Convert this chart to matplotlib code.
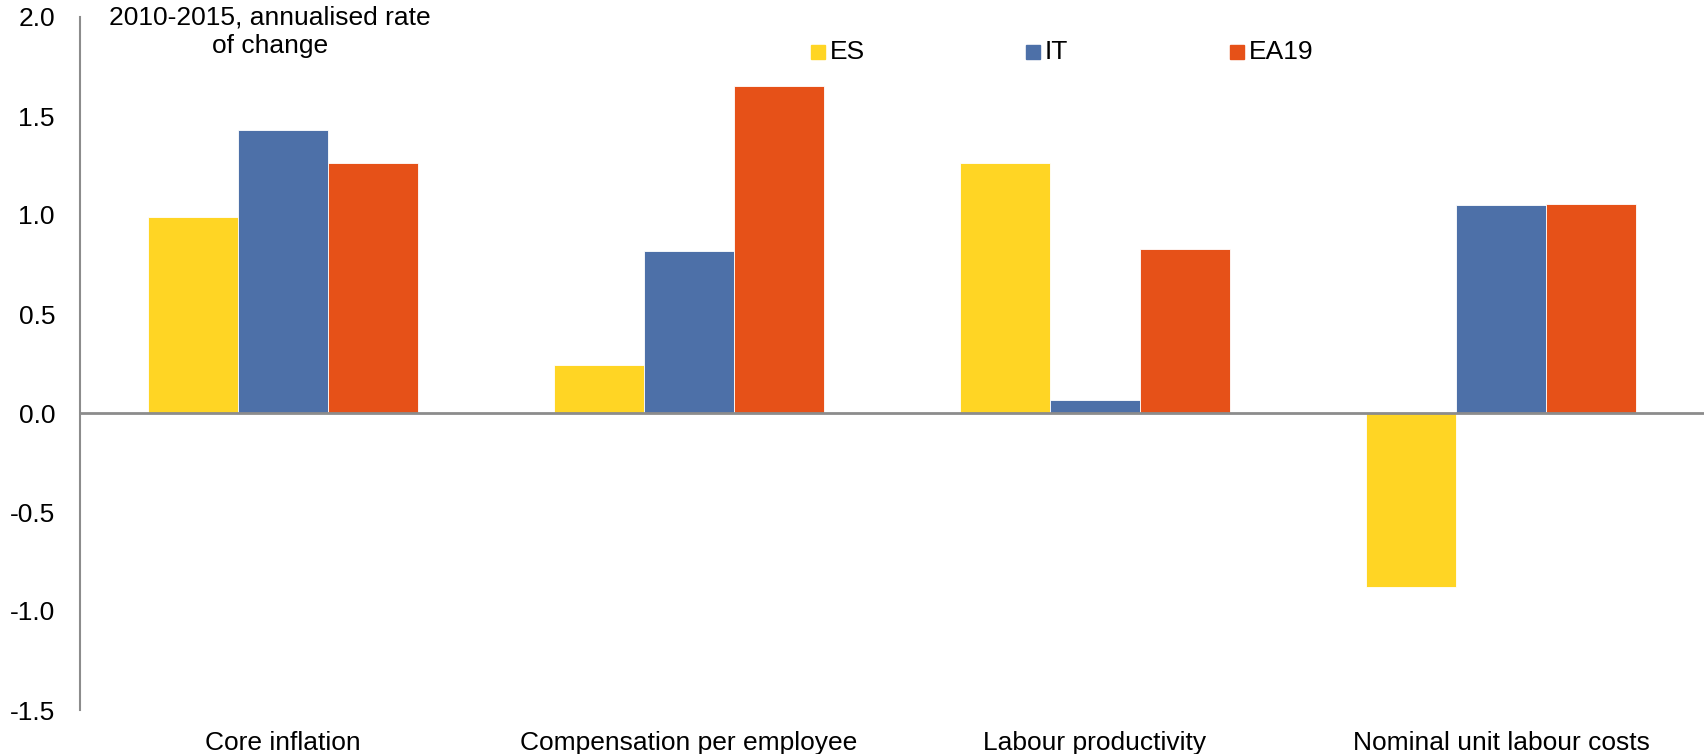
import matplotlib
matplotlib.use("Agg")
import matplotlib.pyplot as plt
from matplotlib.patches import Rectangle
import numpy as np

plt.rcParams['font.family'] = ['Liberation Sans', 'DejaVu Sans']

categories = ["Core inflation", "Compensation per employee",
              "Labour productivity", "Nominal unit labour costs"]
series_names = ["ES", "IT", "EA19"]
es_values = [0.99, 0.24, 1.265, -0.88]
it_values = [1.43, 0.82, 0.065, 1.05]
ea19_values = [1.265, 1.65, 0.83, 1.055]
yticks = [-1.5, -1.0, -0.5, 0.0, 0.5, 1.0, 1.5, 2.0]
colors = ["#FFD524", "#4D70A8", "#E65118"]

FS = 19

fig = plt.figure(figsize=(17.04, 7.54), dpi=100)
ax = fig.add_axes([80 / 1704, 1 - 710 / 754, 1 - 80 / 1704, (710 - 17) / 754])

x = np.arange(len(categories))
bar_w = 90 / 406
for i, (vals, col) in enumerate(zip([es_values, it_values, ea19_values], colors)):
    ax.bar(x + (i - 1) * bar_w, vals, width=bar_w, color=col,
           edgecolor="white", linewidth=0.6, zorder=2)

ax.set_xlim(-0.5, len(categories) - 0.5)
ax.set_ylim(-1.5, 2.0)
ax.set_yticks(yticks)
ax.set_yticklabels([f"{t:.1f}" for t in yticks], fontsize=FS)
ax.tick_params(axis="y", length=0, pad=18)
ax.set_xticks([])

for s in ["top", "right", "bottom"]:
    ax.spines[s].set_visible(False)
ax.spines["left"].set_color("#8C8C8C")
ax.spines["left"].set_linewidth(1.5)
ax.axhline(0, color="#8C8C8C", linewidth=2, zorder=3)

for xi, cat in zip(x, categories):
    ax.text(xi, -0.03, cat, transform=ax.get_xaxis_transform(),
            ha="center", va="top", fontsize=FS)

ax.text(270 / 1704, 1 - 6 / 754, "2010-2015, annualised rate\nof change",
        transform=fig.transFigure, ha="center", va="top", fontsize=FS,
        linespacing=1.2)

# legend: square markers with labels
legend_x = [811, 1026, 1230]
for lx, name, col in zip(legend_x, series_names, colors):
    fig.patches.append(Rectangle((lx / 1704, 1 - 59 / 754), 14 / 1704, 14 / 754,
                                 transform=fig.transFigure, color=col))
    fig.text((lx + 19) / 1704, 1 - 52 / 754, name, ha="left", va="center",
             fontsize=FS)

fig.savefig("out.png", dpi=100)
